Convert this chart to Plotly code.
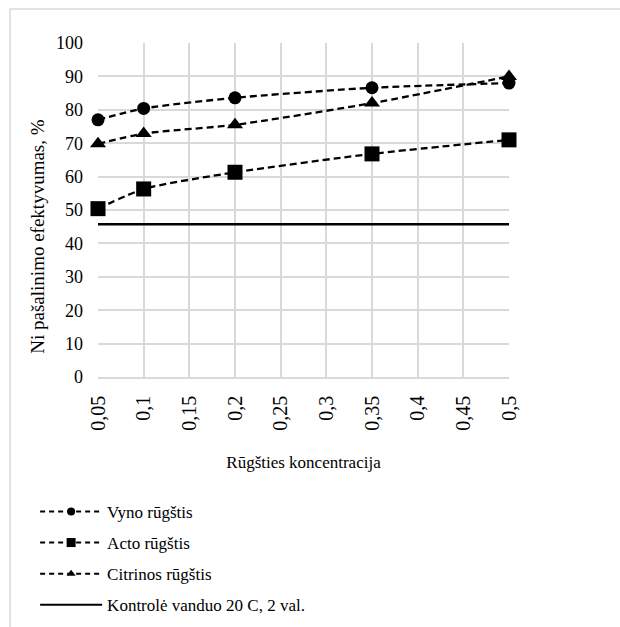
import plotly.graph_objects as go

x_vals = [0.05, 0.1, 0.2, 0.35, 0.5]
vyno = [77.0, 80.4, 83.6, 86.6, 88.0]
acto = [50.4, 56.3, 61.3, 66.8, 71.0]
citrinos = [69.8, 72.9, 75.5, 82.0, 90.0]
kontrole_x = [0.05, 0.5]
kontrole = [45.7, 45.7]

names = ["Vyno rūgštis", "Acto rūgštis", "Citrinos rūgštis", "Kontrolė vanduo 20 C, 2 val."]
x_ticks = [0.05, 0.1, 0.15, 0.2, 0.25, 0.3, 0.35, 0.4, 0.45, 0.5]
x_ticklabels = ["0,05", "0,1", "0,15", "0,2", "0,25", "0,3", "0,35", "0,4", "0,45", "0,5"]
y_title = "Ni pašalinimo efektyvumas, %"
x_title = "Rūgšties koncentracija"

font = "Liberation Serif"

fig = go.Figure()
series = [(vyno, "circle", 13, 8), (acto, "square", 15, 9), (citrinos, "triangle-up", 14, 8)]
for i, (ys, sym, sz, lsz) in enumerate(series):
    fig.add_trace(go.Scatter(
        x=x_vals, y=ys, name=names[i], mode="lines+markers",
        line=dict(color="black", width=2.3, dash="7px,4px", shape="spline", smoothing=0.6),
        marker=dict(symbol=sym, size=sz, color="black"),
        showlegend=False, cliponaxis=False,
    ))
fig.add_trace(go.Scatter(
    x=kontrole_x, y=kontrole, name=names[3], mode="lines",
    line=dict(color="black", width=2.5), showlegend=False, cliponaxis=False,
))
# legend entries (smaller symbols, as in the reference legend)
for i, (ys, sym, sz, lsz) in enumerate(series):
    fig.add_trace(go.Scatter(
        x=[None], y=[None], name=names[i], mode="lines+markers",
        line=dict(color="black", width=2, dash="5px,4px"),
        marker=dict(symbol=sym, size=lsz, color="black"),
        legendgroup=str(i),
    ))
fig.add_trace(go.Scatter(
    x=[None], y=[None], name=names[3], mode="lines",
    line=dict(color="black", width=2.2), legendgroup="3",
))

fig.add_shape(type="rect", xref="paper", yref="paper",
              x0=-0.214, x1=1.6, y0=-1.0, y1=1.102,
              line=dict(color="#d9d9d9", width=1.5), layer="below")

fig.add_annotation(text=y_title, xref="paper", yref="paper",
                   x=-0.146, y=0.42, textangle=-90, showarrow=False,
                   xanchor="center", yanchor="middle",
                   font=dict(family=font, size=19, color="black"))

fig.update_layout(
    width=620, height=627,
    margin=dict(l=98, r=111, t=43, b=250, autoexpand=False),
    paper_bgcolor="white", plot_bgcolor="white",
    font=dict(family=font, size=17, color="black"),
    showlegend=True,
    legend=dict(x=-0.153, y=-0.35, xanchor="left", yanchor="top",
                font=dict(family=font, size=17, color="black"),
                tracegroupgap=6, itemwidth=62,
                bgcolor="rgba(0,0,0,0)"),
    xaxis=dict(
        range=[0.05, 0.5], tickvals=x_ticks, ticktext=x_ticklabels, tickangle=-90,
        showgrid=True, gridcolor="#d9d9d9", gridwidth=1.5, automargin=False,
        showline=True, linecolor="#d9d9d9", linewidth=1.5, zeroline=False,
        title=dict(text=x_title, font=dict(family=font, size=17), standoff=26),
        tickfont=dict(family=font, size=20), ticks="", ticklabelstandoff=9,
    ),
    yaxis=dict(
        range=[0, 100], dtick=10, automargin=False,
        showgrid=True, gridcolor="#d9d9d9", gridwidth=1.5,
        showline=False, zeroline=False,
        tickfont=dict(family=font, size=18), ticks="", ticklabelstandoff=14,
    ),
)
fig.write_html("out.html")
